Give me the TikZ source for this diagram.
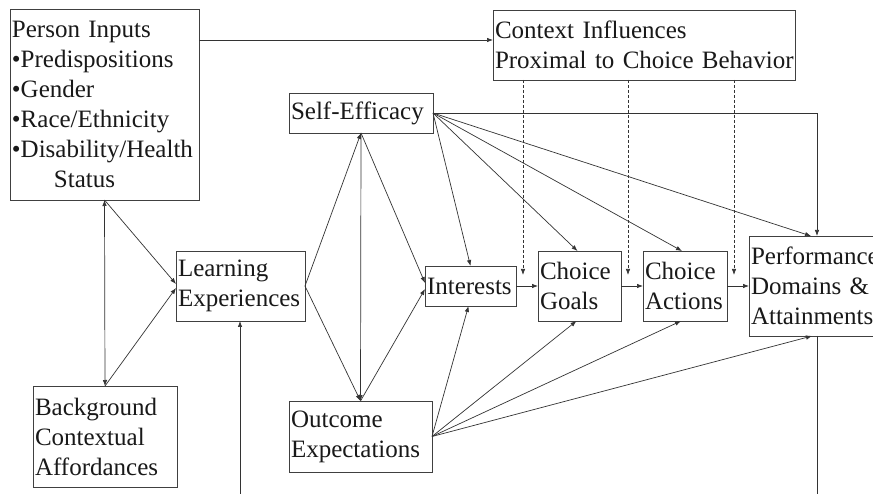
\documentclass[tikz,border=0pt]{standalone}
\usepackage{fontspec}
\setmainfont{Liberation Serif}
\usetikzlibrary{arrows.meta}
\begin{document}
\begin{tikzpicture}[x=1pt,y=-1pt,
  box/.style={draw=black!75, line width=0.8pt, anchor=north west, inner xsep=2pt, inner ysep=0pt, outer sep=0pt, align=left, text=black!90, font=\fontsize{25}{30}\selectfont},
  arr/.style={draw=black!80, line width=0.7pt, -{Latex[length=6pt,width=4.5pt]}},
  dbl/.style={draw=black!80, line width=0.7pt, {Latex[length=6pt,width=4.5pt]}-{Latex[length=6pt,width=4.5pt]}},
  plain/.style={draw=black!80, line width=0.7pt},
  dasharr/.style={arr, dash pattern=on 3pt off 2pt}]
\clip (0,0) rectangle (873,494);
\fill[white] (0,0) rectangle (873,494);

\node[box, minimum width=189pt, minimum height=191pt, text width=185pt] (pi) at (10,9)
  {Person Inputs\\•Predispositions\\•Gender\\•Race/Ethnicity\\•Disability/Health\\\hspace*{42pt}Status};
\node[box, minimum width=302pt, minimum height=70pt, text width=298pt] (ctx) at (493,10)
  {\mbox{Context Influences}\\\mbox{Proximal to Choice Behavior}};
\node[box, minimum width=144pt, minimum height=40pt, text width=140pt] (se) at (289,93) {Self-Efficacy};
\node[box, minimum width=129pt, minimum height=70pt, text width=125pt] (le) at (176,251) {Learning\\Experiences};
\node[box, minimum width=144pt, minimum height=101pt, text width=140pt] (bg) at (33,386) {Background\\Contextual\\Affordances};
\node[box, minimum width=143pt, minimum height=71pt, text width=139pt] (oe) at (289,401) {Outcome\\Expectations};
\node[box, minimum width=91pt, minimum height=40pt, text width=87pt] (int) at (425,266) {Interests};
\node[box, minimum width=83pt, minimum height=70pt, text width=79pt] (cg) at (538,251) {Choice\\Goals};
\node[box, minimum width=84pt, minimum height=70pt, text width=80pt] (ca) at (643,251) {Choice\\Actions};
\node[box, minimum width=136pt, minimum height=100pt, text width=132pt] (perf) at (749,236) {\mbox{Performance}\\\mbox{Domains \&}\\\mbox{Attainments}};

\coordinate (d1) at (523,275);
\coordinate (d2) at (628,275);
\coordinate (d3) at (734,275);
\coordinate (fbl) at (240,500);

\draw[arr] ([yshift=-31pt]pi.north east) -- ([yshift=-30pt]ctx.north west);
\draw[dasharr] (ctx.south -| d1) -- (d1);
\draw[dasharr] (ctx.south -| d2) -- (d2);
\draw[dasharr] (ctx.south -| d3) -- (d3);

\draw[arr] (int.east) -- (cg.west);
\draw[arr] (cg.east) -- (ca.west);
\draw[arr] (ca.east) -- (perf.west);

\draw[dbl] (pi.south) -- (bg.north);
\draw[arr] (pi.south) -- ([yshift=2pt]le.west);
\draw[arr] (bg.north) -- ([yshift=-2pt]le.west);

\draw[arr] (le.east) -- (se.south);
\draw[arr] (le.east) -- (oe.north);
\draw[arr] (se.south) -- (oe.north);
\draw[arr] (se.south) -- ([yshift=3pt]int.west);
\draw[arr] (oe.north) -- ([yshift=-3pt]int.west);

\draw[arr] (se.east) -- (int.north);
\draw[arr] (se.east) -- ([xshift=-2pt]cg.north);
\draw[arr] (se.east) -- ([xshift=-3pt]ca.north);
\draw[arr] (se.east) -- ([xshift=-6pt]perf.north);
\draw[arr] (se.east) -| (perf.north);

\draw[arr] (oe.east) -- ([xshift=-2pt]int.south);
\draw[arr] (oe.east) -- ([xshift=-3pt]cg.south);
\draw[arr] (oe.east) -- ([xshift=-4pt]ca.south);
\draw[arr] (oe.east) -- ([xshift=-5pt]perf.south);

\draw[arr] (fbl) -- (fbl |- le.south);
\draw[plain] (perf.south) -- (perf.south |- fbl);
\end{tikzpicture}
\end{document}
